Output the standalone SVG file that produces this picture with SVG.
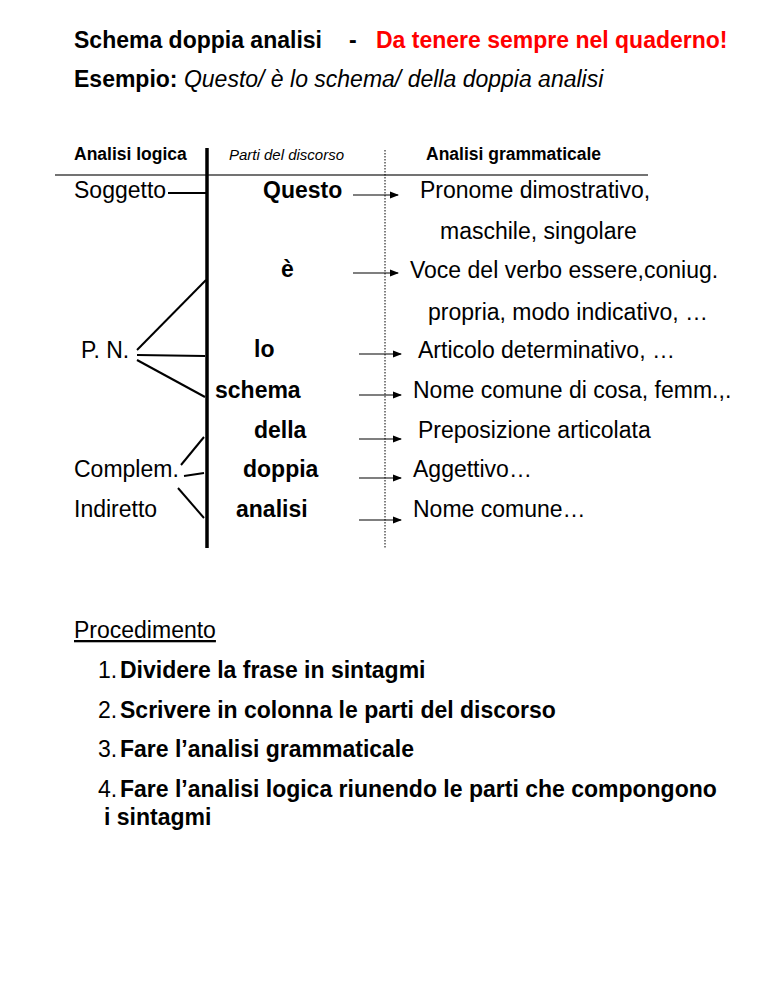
<svg xmlns="http://www.w3.org/2000/svg" width="768" height="994" viewBox="0 0 768 994">
<defs>
<style>
text{font-family:"Liberation Sans",Arial,sans-serif;fill:#000}
.t{font-size:23px}
.b{font-weight:bold}
.i{font-style:italic}
.h{font-size:17.5px;font-weight:bold}
.red{fill:#ff0000}
.ln{stroke:#000;stroke-width:2;fill:none}
.ar{stroke:#000;stroke-width:1.2;fill:none;marker-end:url(#ah)}
</style>
<marker id="ah" markerWidth="9" markerHeight="9" refX="8" refY="4.5" orient="auto" markerUnits="userSpaceOnUse">
<path d="M0,1 L9,4.5 L0,8 Z" fill="#000"/>
</marker>
</defs>
<rect width="768" height="994" fill="#fff"/>

<g id="title">
<text class="t b" x="74" y="48">Schema doppia analisi</text>
<text class="t b" x="349" y="48">-</text>
<text class="t b red" x="376" y="48">Da tenere sempre nel quaderno!</text>
</g>
<g id="example">
<text class="t" x="74" y="87"><tspan class="b">Esempio:</tspan> <tspan class="i">Questo/ è lo schema/ della doppia analisi</tspan></text>
</g>

<g id="headers">
<text class="h" x="74" y="160">Analisi logica</text>
<text x="229" y="160" font-size="15" font-style="italic">Parti del discorso</text>
<text class="h" x="426" y="160">Analisi grammaticale</text>
</g>

<g id="frame">
<line x1="55" y1="175" x2="648" y2="175" stroke="#444" stroke-width="1.5"/>
<line x1="207" y1="148" x2="207" y2="548" stroke="#000" stroke-width="3.5"/>
<line x1="385" y1="150" x2="385" y2="548" stroke="#000" stroke-width="1" stroke-dasharray="1.5,1.5"/>
</g>

<g id="logica">
<text class="t" x="74" y="198">Soggetto</text>
<text class="t" x="81" y="358">P. N.</text>
<text class="t" x="74" y="477">Complem.</text>
<text class="t" x="74" y="517">Indiretto</text>
</g>

<g id="parti">
<text class="t b" x="263" y="198">Questo</text>
<text class="t b" x="281" y="277">è</text>
<text class="t b" x="254" y="357">lo</text>
<text class="t b" x="215" y="398">schema</text>
<text class="t b" x="254" y="438">della</text>
<text class="t b" x="243" y="477">doppia</text>
<text class="t b" x="236" y="517">analisi</text>
</g>

<g id="grammaticale">
<text class="t" x="420" y="198">Pronome dimostrativo,</text>
<text class="t" x="440" y="239">maschile, singolare</text>
<text class="t" x="410" y="278">Voce del verbo essere,coniug.</text>
<text class="t" x="428" y="320">propria, modo indicativo, …</text>
<text class="t" x="418" y="358">Articolo determinativo, …</text>
<text class="t" x="413" y="398">Nome comune di cosa, femm.,.</text>
<text class="t" x="418" y="438">Preposizione articolata</text>
<text class="t" x="413" y="477">Aggettivo…</text>
<text class="t" x="413" y="517">Nome comune…</text>
</g>

<g id="connectors">
<line class="ln" x1="168" y1="193" x2="206" y2="193"/>
<line class="ln" x1="137" y1="350" x2="206" y2="280"/>
<line class="ln" x1="137" y1="355" x2="205" y2="356"/>
<line class="ln" x1="137" y1="360" x2="205" y2="397"/>
<line class="ln" x1="181" y1="465" x2="204" y2="437"/>
<line class="ln" x1="184" y1="476" x2="204" y2="473" stroke-width="3"/>
<line class="ln" x1="178" y1="488" x2="204" y2="518"/>
<line class="ar" x1="353" y1="195" x2="398" y2="195"/>
<line class="ar" x1="353" y1="273" x2="398" y2="273"/>
<line class="ar" x1="359" y1="354" x2="401" y2="354"/>
<line class="ar" x1="359" y1="395" x2="401" y2="395"/>
<line class="ar" x1="359" y1="439" x2="401" y2="439"/>
<line class="ar" x1="359" y1="478" x2="401" y2="478"/>
<line class="ar" x1="359" y1="520" x2="401" y2="520"/>
</g>

<g id="procedimento">
<text class="t" x="74" y="638" text-decoration="underline">Procedimento</text>
<text class="t" x="98" y="678">1.</text>
<text class="t b" x="120" y="678">Dividere la frase in sintagmi</text>
<text class="t" x="98" y="718">2.</text>
<text class="t b" x="120" y="718">Scrivere in colonna le parti del discorso</text>
<text class="t" x="98" y="757">3.</text>
<text class="t b" x="120" y="757">Fare l’analisi grammaticale</text>
<text class="t" x="98" y="797">4.</text>
<text class="t b" x="120" y="797">Fare l’analisi logica riunendo le parti che compongono</text>
<text class="t b" x="104" y="825">i sintagmi</text>
</g>
</svg>
